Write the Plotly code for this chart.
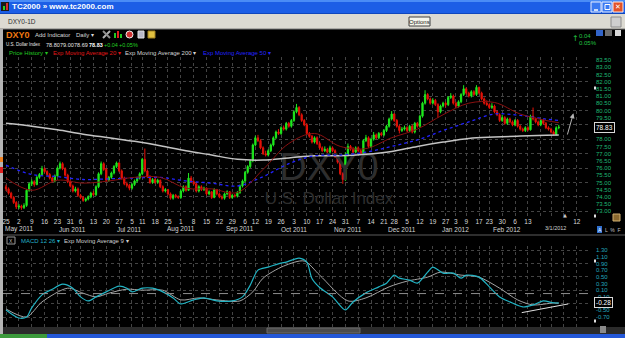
import plotly.graph_objects as go
import pandas as pd

W, H = 625, 338

# ---------------- trading calendar (categories) ----------------
HOLIDAYS = ["2011-05-30", "2011-07-04", "2011-09-05", "2011-11-24",
            "2011-12-26", "2012-01-02", "2012-01-16", "2012-02-20"]
calendar = [d.strftime("%Y-%m-%d") for d in pd.bdate_range("2011-04-25", "2012-03-16")
            if d.strftime("%Y-%m-%d") not in HOLIDAYS]

# ---------------- DXY0 daily OHLC ----------------
opens = [
    74.70, 74.55, 74.25, 73.95, 73.60,  73.30, 73.35, 73.25, 73.40, 74.45,
    74.90, 75.05, 74.85, 75.35, 75.55,  75.95, 75.75, 75.55, 75.30, 75.10,
    75.45, 76.00, 76.30, 75.95, 75.50,  75.05, 74.75, 74.40, 74.55,
    74.10, 73.95, 73.75, 73.85, 74.00,  74.25, 74.15, 74.70, 75.60, 76.30,
    75.90, 75.15, 75.35, 75.65, 76.10,  76.35, 75.80, 75.30, 74.90, 74.80,
    74.60, 74.85, 75.10, 75.30,  75.60, 76.60, 75.80, 75.40, 75.00,
    75.20, 75.00, 75.15, 74.70, 74.40,  74.50, 74.20, 73.90, 74.10, 74.00,
    73.95, 74.40, 74.70, 74.45, 75.30,  75.05, 74.90, 74.40, 74.70, 74.50,
    74.60, 74.20, 74.35, 73.95, 74.50,  74.20, 74.00, 73.90, 74.20, 74.35,
    73.95, 74.10, 74.05, 74.30, 74.75,  75.10, 75.70, 76.10, 76.50,
    77.60, 78.10, 77.90, 77.40, 77.00,  76.90, 77.20, 77.60, 78.10, 78.50,
    78.40, 78.80, 78.70, 79.10, 78.90,  79.30, 79.90, 80.20, 79.70, 79.30,
    79.00, 78.40, 78.20, 77.80, 78.10,  77.70, 77.40, 77.20, 77.30, 77.10,
    77.40, 77.20, 76.80, 76.40, 75.60,  75.20, 76.90, 77.50, 77.30, 77.10,
    77.40, 77.20, 77.00, 77.90, 78.10,  77.50, 78.00, 78.30, 78.10, 78.40,
    78.30, 78.60, 78.90, 79.40,  79.75, 79.30, 78.90, 78.60, 78.70,
    78.80, 78.60, 78.90, 78.50, 79.10,  78.90, 79.60, 80.50, 81.10, 80.80,
    80.50, 80.70, 80.40, 79.90, 80.30,  80.50, 80.40, 80.90, 81.00,
    80.50, 80.30, 80.60, 81.10,  81.50, 81.20, 81.00, 81.30, 81.10,
    81.60, 81.20, 80.80, 80.50,  80.40, 80.20, 80.30, 79.90, 79.70,
    79.30, 79.50, 79.10, 79.40, 79.20,  79.00, 79.30, 78.90, 78.70, 78.60,
    78.80, 78.65, 79.60, 79.40, 79.20,  79.00, 79.30, 79.10, 78.80,
    78.70, 78.50, 78.35, 78.80,
]
highs = [
    74.85, 74.65, 74.35, 74.05, 73.70,  73.50, 73.45, 73.55, 74.55, 75.00,
    75.20, 75.15, 75.45, 75.65, 76.15,  76.05, 75.85, 75.65, 75.40, 75.55,
    76.10, 76.45, 76.40, 76.05, 75.60,  75.15, 74.85, 74.70, 74.65,
    74.20, 74.05, 73.95, 74.10, 74.35,  74.40, 74.80, 75.70, 76.45, 76.40,
    76.00, 75.45, 75.75, 76.20, 76.45,  76.40, 75.90, 75.40, 75.05, 74.90,
    74.95, 75.20, 75.40, 75.70,  76.70, 77.35, 75.90, 75.50, 75.30,
    75.30, 75.25, 75.20, 74.80, 74.60,  74.55, 74.30, 74.20, 74.20, 74.10,
    74.50, 74.80, 74.80, 75.65, 75.45,  75.15, 75.00, 74.80, 74.80, 74.70,
    74.65, 74.45, 74.40, 74.60, 74.55,  74.30, 74.10, 74.30, 74.45, 74.40,
    74.20, 74.20, 74.40, 74.85, 75.20,  75.80, 76.20, 76.60, 77.70,
    78.25, 78.30, 78.00, 77.50, 77.20,  77.30, 77.70, 78.20, 78.60, 78.70,
    78.90, 78.95, 79.20, 79.20, 79.40,  80.00, 80.45, 80.30, 79.80, 79.40,
    79.10, 78.50, 78.30, 78.20, 78.20,  77.80, 77.50, 77.50, 77.40, 77.55,
    77.50, 77.30, 76.90, 76.50, 75.70,  77.10, 77.70, 77.60, 77.45, 77.50,
    77.50, 77.30, 78.00, 78.30, 78.20,  78.10, 78.50, 78.40, 78.50, 78.50,
    78.70, 79.00, 79.50, 79.95,  79.80, 79.40, 79.00, 78.85, 78.95,
    78.90, 79.00, 79.00, 79.20, 79.20,  79.70, 80.60, 81.40, 81.20, 80.90,
    80.85, 80.80, 80.50, 80.40, 80.60,  80.60, 81.00, 81.20, 81.10,
    80.60, 80.70, 81.20, 81.75,  81.60, 81.30, 81.40, 81.40, 81.75,
    81.65, 81.30, 80.90, 80.70,  80.50, 80.50, 80.40, 80.00, 79.80,
    79.70, 79.60, 79.50, 79.50, 79.30,  79.40, 79.40, 79.00, 78.80, 78.90,
    78.90, 79.70, 80.20, 79.50, 79.30,  79.40, 79.40, 79.20, 78.90,
    78.80, 78.60, 78.90, 79.00,
]
lows = [
    74.40, 74.15, 73.85, 73.50, 73.15,  73.15, 73.10, 73.15, 73.30, 74.35,
    74.75, 74.70, 74.80, 75.25, 75.45,  75.65, 75.45, 75.20, 75.00, 75.00,
    75.40, 75.90, 75.85, 75.40, 74.95,  74.65, 74.30, 74.30, 74.00,
    73.85, 73.65, 73.65, 73.75, 73.90,  74.05, 74.05, 74.60, 75.50, 75.80,
    75.05, 75.05, 75.25, 75.55, 76.00,  75.70, 75.20, 74.80, 74.65, 74.45,
    74.50, 74.75, 75.00, 75.20,  75.50, 75.70, 75.30, 74.90, 74.90,
    74.90, 74.90, 74.60, 74.30, 74.30,  74.10, 73.80, 73.80, 73.90, 73.85,
    73.85, 74.30, 74.35, 74.40, 74.95,  74.80, 74.30, 74.30, 74.40, 74.40,
    74.10, 74.10, 73.85, 73.90, 74.10,  73.90, 73.80, 73.80, 74.10, 73.85,
    73.85, 73.95, 73.95, 74.20, 74.65,  75.00, 75.60, 76.00, 76.40,
    77.50, 77.80, 77.30, 76.90, 76.80,  76.80, 77.10, 77.50, 78.00, 78.30,
    78.30, 78.60, 78.60, 78.80, 78.80,  79.20, 79.80, 79.60, 79.20, 78.90,
    78.30, 78.10, 77.70, 77.70, 77.60,  77.30, 77.10, 77.10, 77.00, 77.00,
    77.10, 76.70, 76.30, 75.50, 74.90,  75.10, 76.80, 77.20, 77.00, 77.00,
    77.10, 76.90, 76.90, 77.80, 77.40,  77.40, 77.90, 78.00, 78.00, 78.20,
    78.20, 78.50, 78.80, 79.30,  79.20, 78.80, 78.40, 78.50, 78.60,
    78.50, 78.50, 78.40, 78.40, 78.80,  78.80, 79.50, 80.40, 80.70, 80.40,
    80.40, 80.30, 79.50, 79.80, 80.20,  80.20, 80.30, 80.80, 80.40,
    80.20, 80.20, 80.50, 81.00,  81.10, 80.90, 80.90, 81.00, 81.00,
    81.10, 80.70, 80.40, 80.30,  80.10, 80.10, 79.80, 79.60, 79.20,
    79.20, 79.00, 79.00, 79.10, 78.90,  78.90, 78.80, 78.60, 78.50, 78.50,
    78.55, 78.60, 79.30, 79.10, 78.90,  78.90, 79.00, 78.70, 78.60,
    78.40, 78.25, 78.25, 78.69,
]
closes = [
    74.55, 74.25, 73.95, 73.60, 73.30,  73.35, 73.25, 73.40, 74.45, 74.90,
    75.05, 74.85, 75.35, 75.55, 75.95,  75.75, 75.55, 75.30, 75.10, 75.45,
    76.00, 76.30, 75.95, 75.50, 75.05,  74.75, 74.40, 74.55, 74.10,
    73.95, 73.75, 73.85, 74.00, 74.25,  74.15, 74.70, 75.60, 76.30, 75.90,
    75.15, 75.35, 75.65, 76.10, 76.35,  75.80, 75.30, 74.90, 74.80, 74.60,
    74.85, 75.10, 75.30, 75.60,  76.60, 75.80, 75.40, 75.00, 75.20,
    75.00, 75.15, 74.70, 74.40, 74.50,  74.20, 73.90, 74.10, 74.00, 73.95,
    74.40, 74.70, 74.45, 75.30, 75.05,  74.90, 74.40, 74.70, 74.50, 74.60,
    74.20, 74.35, 73.95, 74.50, 74.20,  74.00, 73.90, 74.20, 74.35, 73.95,
    74.10, 74.05, 74.30, 74.75, 75.10,  75.70, 76.10, 76.50, 77.60,
    78.10, 77.90, 77.40, 77.00, 76.90,  77.20, 77.60, 78.10, 78.50, 78.40,
    78.80, 78.70, 79.10, 78.90, 79.30,  79.90, 80.20, 79.70, 79.30, 79.00,
    78.40, 78.20, 77.80, 78.10, 77.70,  77.40, 77.20, 77.30, 77.10, 77.40,
    77.20, 76.80, 76.40, 75.60, 75.20,  76.90, 77.50, 77.30, 77.10, 77.40,
    77.20, 77.00, 77.90, 78.10, 77.50,  78.00, 78.30, 78.10, 78.40, 78.30,
    78.60, 78.90, 79.40, 79.75,  79.30, 78.90, 78.60, 78.70, 78.80,
    78.60, 78.90, 78.50, 79.10, 78.90,  79.60, 80.50, 81.10, 80.80, 80.50,
    80.70, 80.40, 79.90, 80.30, 80.50,  80.40, 80.90, 81.00, 80.50,
    80.30, 80.60, 81.10, 81.50,  81.20, 81.00, 81.30, 81.10, 81.60,
    81.20, 80.80, 80.50, 80.40,  80.20, 80.30, 79.90, 79.70, 79.30,
    79.50, 79.10, 79.40, 79.20, 79.00,  79.30, 78.90, 78.70, 78.60, 78.80,
    78.65, 79.60, 79.40, 79.20, 79.00,  79.30, 79.10, 78.80, 78.70,
    78.50, 78.35, 78.79, 78.83,
]

# ---------------- moving averages (read at sample bars) ----------------
ma_idx = [0, 10, 20, 30, 40, 50, 60, 70, 80, 90, 100, 110, 120, 130, 140, 150,
          160, 170, 180, 190, 200, 210, 215]
ema20 = [75.30, 74.45, 75.15, 74.95, 75.10, 75.35, 75.35, 74.60, 74.55, 74.30, 75.90,
         77.70, 78.40, 77.50, 77.35, 78.10, 78.70, 79.70, 80.50, 80.55, 79.75, 79.30, 79.15]
ema50 = [76.20, 75.55, 75.40, 75.20, 75.25, 75.30, 75.35, 75.10, 74.95, 74.75, 75.40,
         76.30, 76.85, 76.90, 77.10, 77.50, 77.95, 78.60, 79.20, 79.75, 79.65, 79.40, 79.30]
ema200 = [79.10, 78.90, 78.65, 78.35, 78.10, 77.85, 77.55, 77.20, 76.90, 76.60, 76.55,
          76.70, 76.85, 76.85, 76.95, 77.15, 77.50, 77.80, 78.05, 78.15, 78.22, 78.28, 78.30]

# ---------------- MACD 12 26 and EMA 9 signal (read at sample bars) ----------------
macd_idx = [0, 5, 8, 10, 14, 18, 22, 26, 29, 32, 35, 39, 44, 47, 49, 53, 57, 61, 65, 68,
            73, 77, 82, 88, 92, 95, 98, 102, 107, 109, 114, 117, 119, 122, 127, 132, 135, 140,
            145, 148, 151, 153, 157, 160, 164, 166, 170, 174, 177, 179, 184, 188, 192, 196,
            201, 205, 209, 213, 215]
macd_val = [-0.49, -0.73, -0.70, -0.43, -0.04, 0.13, 0.28, 0.16, -0.10, -0.22, -0.10, 0.05,
            0.22, 0.16, 0.05, 0.16, 0.16, 0.05, -0.13, -0.31, -0.19, -0.13, -0.22, -0.22,
            -0.10, 0.25, 0.70, 0.79, 0.91, 0.94, 1.06, 0.94, 0.45, 0.18, -0.10, -0.49, -0.25,
            0.02, 0.20, 0.31, 0.55, 0.46, 0.40, 0.31, 0.64, 0.79, 0.61, 0.61, 0.46, 0.55, 0.49,
            0.20, -0.10, -0.25, -0.40, -0.34, -0.22, -0.28, -0.28]
sig_idx = [0, 8, 14, 24, 30, 35, 40, 47, 53, 61, 68, 75, 82, 91, 96, 100, 108, 116, 122,
           133, 140, 149, 156, 164, 169, 177, 184, 192, 199, 205, 213, 215]
sig_val = [-0.46, -0.70, -0.25, 0.16, 0.01, -0.10, 0.01, 0.13, 0.10, 0.10, -0.19, -0.13,
           -0.19, -0.22, 0.05, 0.46, 0.82, 0.97, 0.55, -0.22, -0.13, 0.20, 0.37, 0.49, 0.64,
           0.55, 0.49, 0.16, -0.19, -0.34, -0.28, -0.29]

# ---------------- tick labels ----------------
tick_dates = ["2011-04-25", "2011-05-02", "2011-05-09", "2011-05-16", "2011-05-23", "2011-05-31",
              "2011-06-06", "2011-06-13", "2011-06-20", "2011-06-27", "2011-07-05", "2011-07-11",
              "2011-07-18", "2011-07-25", "2011-08-01", "2011-08-08", "2011-08-15", "2011-08-22",
              "2011-08-29", "2011-09-06", "2011-09-12", "2011-09-19", "2011-09-26", "2011-10-03",
              "2011-10-10", "2011-10-17", "2011-10-24", "2011-10-31", "2011-11-07", "2011-11-14",
              "2011-11-21", "2011-11-28", "2011-12-05", "2011-12-12", "2011-12-19", "2011-12-27",
              "2012-01-03", "2012-01-09", "2012-01-17", "2012-01-23", "2012-01-30", "2012-02-06",
              "2012-02-13", "2012-02-21", "2012-02-27", "2012-03-05", "2012-03-12"]
tick_text = ["25", "2", "9", "16", "23", "31", "6", "13", "20", "27", "5", "11", "18", "25",
             "1", "8", "15", "22", "29", "6", "12", "19", "26", "3", "10", "17", "24", "31",
             "7", "14", "21", "28", "5", "12", "19", "27", "3", "9", "17", "23", "30", "6",
             "13", "", "", "", "12"]
month_dates = ["2011-05-02", "2011-06-01", "2011-07-01", "2011-08-01", "2011-09-01",
               "2011-10-03", "2011-11-01", "2011-12-01", "2012-01-03", "2012-02-01"]
month_text = ["May 2011", "Jun 2011", "Jul 2011", "Aug 2011", "Sep 2011", "Oct 2011",
              "Nov 2011", "Dec 2011", "Jan 2012", "Feb 2012"]
price_ticks = [83.5, 83.0, 82.5, 82.0, 81.5, 81.0, 80.5, 80.0, 79.5, 78.0, 77.5, 77.0,
               76.5, 76.0, 75.5, 75.0, 74.5, 74.0, 73.5, 73.0]
macd_ticks = [1.30, 1.10, 0.90, 0.70, 0.50, 0.30, 0.10, -0.10, -0.50, -0.70]
last_price = 78.83
last_macd = -0.28

n = min(len(opens), len(highs), len(lows), len(closes))
bar_x = list(range(n))
tick_pos = [calendar.index(d) for d in tick_dates]
month_pos = [calendar.index(d) for d in month_dates]

# ---------------- pixel helpers ----------------
PX = 2.571          # pixels per bar
X0 = 6.0            # pixel of first bar
XL, XR = 3, 590     # plot area in pixels
x_range = [(XL - X0) / PX, (XR - X0) / PX]
P_TOP, P_BOT = 57, 216
price_range = [83.5 - (P_BOT - 60) / 14.4, 83.5 + (60 - P_TOP) / 14.4]
M_TOP, M_BOT = 246, 327
macd_range = [1.30 - (M_BOT - 250) / 33.5, 1.30 + (250 - M_TOP) / 33.5]

shapes, annotations = [], []


def rect(x0, y0, x1, y1, fill, line=None, lw=1, kind="rect"):
    shapes.append(dict(type=kind, xref="paper", yref="paper", x0=x0 / W, x1=x1 / W,
                       y0=1 - y0 / H, y1=1 - y1 / H, fillcolor=fill,
                       line=dict(color=line if line else fill, width=lw if line else 0)))


def hline(x0, x1, y, color, w=1, dash="solid"):
    shapes.append(dict(type="line", xref="paper", yref="paper", x0=x0 / W, x1=x1 / W,
                       y0=1 - y / H, y1=1 - y / H, line=dict(color=color, width=w, dash=dash)))


def txt(x, y, s, size=6, color="#d8d8d8", anchor="left", bold=False, family="Liberation Sans"):
    annotations.append(dict(x=x / W, y=1 - y / H, xref="paper", yref="paper",
                            text=("<b>%s</b>" % s) if bold else s, showarrow=False,
                            xanchor=anchor, yanchor="middle", borderpad=0,
                            font=dict(size=size, color=color, family=family)))


GREEN, RED = "#1ee81e", "#e41208"
GRID = "#444444"

fig = go.Figure()

# watermark (behind everything)
fig.add_trace(go.Scatter(x=[(329 - X0) / PX], y=[83.5 - (170 - 60) / 14.4], mode="text",
                         text=["DXY0"], textfont=dict(size=38, color="#2e2e2e", family="Liberation Sans"),
                         hoverinfo="skip", showlegend=False, xaxis="x", yaxis="y"))
fig.add_trace(go.Scatter(x=[(329 - X0) / PX], y=[83.5 - (200 - 60) / 14.4], mode="text",
                         text=["U.S. Dollar Index"], textfont=dict(size=17, color="#2e2e2e", family="Liberation Sans"),
                         hoverinfo="skip", showlegend=False, xaxis="x", yaxis="y"))

fig.add_trace(go.Scatter(x=ma_idx, y=ema200, mode="lines", line=dict(color="#c4c4c4", width=1.5, shape="spline"),
                         hoverinfo="skip", showlegend=False, xaxis="x", yaxis="y"))
fig.add_trace(go.Scatter(x=ma_idx, y=ema50, mode="lines",
                         line=dict(color="#2222ff", width=1.3, dash="dot", shape="spline"),
                         hoverinfo="skip", showlegend=False, xaxis="x", yaxis="y"))
fig.add_trace(go.Scatter(x=ma_idx, y=ema20, mode="lines", line=dict(color="#8a1010", width=1, shape="spline"),
                         hoverinfo="skip", showlegend=False, xaxis="x", yaxis="y"))

fig.add_trace(go.Candlestick(
    x=bar_x, open=opens[:n], high=highs[:n], low=lows[:n], close=closes[:n],
    increasing=dict(line=dict(color=GREEN, width=1), fillcolor=GREEN),
    decreasing=dict(line=dict(color=RED, width=1), fillcolor=RED),
    whiskerwidth=0, hoverinfo="skip", showlegend=False, xaxis="x", yaxis="y"))

# dummy traces for label axes
fig.add_trace(go.Scatter(x=[0], y=[80], mode="markers", marker=dict(opacity=0), hoverinfo="skip",
                         showlegend=False, xaxis="x", yaxis="y3"))
fig.add_trace(go.Scatter(x=[0], y=[0], mode="markers", marker=dict(opacity=0), hoverinfo="skip",
                         showlegend=False, xaxis="x2", yaxis="y4"))

# MACD
fig.add_trace(go.Scatter(x=sig_idx, y=sig_val, mode="lines", line=dict(color="#a4a4a4", width=1, shape="spline", smoothing=0.8),
                         hoverinfo="skip", showlegend=False, xaxis="x2", yaxis="y2"))
fig.add_trace(go.Scatter(x=macd_idx, y=macd_val, mode="lines", line=dict(color="#22b4c4", width=1.2, shape="spline", smoothing=0.8),
                         hoverinfo="skip", showlegend=False, xaxis="x2", yaxis="y2"))

# ---------------- window chrome ----------------
rect(0, 0, 625, 14, "#1c5ee6")
rect(0, 0, 625, 2, "#4a8cf6")
rect(0, 13, 625, 14, "#0f46bd")
rect(1, 2, 9, 11, "#1a1a1a")
rect(3, 6, 5, 10, "#2ad02a")
rect(6, 3, 8, 10, "#d83030")
txt(11, 7, "TC2000 » www.tc2000.com", size=8, color="#ffffff", bold=True)
rect(591, 2, 601, 12, "#3a7af2", line="#e8eeff")
rect(602, 2, 612, 12, "#3a7af2", line="#e8eeff")
rect(613, 2, 623, 12, "#e25228", line="#ffe8e0")
hline(594, 598, 10, "#ffffff", 1.5)
rect(605, 4.5, 610, 9.5, "rgba(0,0,0,0)", line="#ffffff")
txt(618, 7, "✕", size=7, color="#ffffff", anchor="center", family="DejaVu Sans")

rect(0, 14, 625, 29, "#dcdad2")
hline(0, 625, 29, "#7a7a7a")
txt(7, 21.5, "DXY0-1D", size=6.5, color="#303030")
rect(409, 17, 430, 26, "#f6f6ec", line="#404040")
txt(419.5, 21.5, "Options", size=6, color="#202020", anchor="center")
rect(611, 17, 621, 27, "#cfcfcf", line="#8c8c8c")

# chart frame extras
rect(0, 29, 3, 334, "#b4b4b4")
rect(0, 157, 3, 162, "#f08020")
rect(0, 167, 3, 173, "#e02020")
rect(596, 30, 603, 36, "#3264c8")
rect(605, 30, 612, 36, "#6e6e6e")
rect(615, 30, 621, 36, "#d8d8d8")

# header line 1
txt(5, 34.5, "DXY0", size=9, color="#f07a10", bold=True)
txt(34, 34.5, "Add Indicator", size=6, color="#d8d8d8")
txt(75, 34.5, "Daily ▾", size=6, color="#d8d8d8")
shapes.append(dict(type="line", xref="paper", yref="paper", x0=103 / W, x1=110 / W, y0=1 - 38 / H, y1=1 - 31 / H,
                   line=dict(color="#b0b0b0", width=2)))
shapes.append(dict(type="line", xref="paper", yref="paper", x0=103 / W, x1=110 / W, y0=1 - 31 / H, y1=1 - 38 / H,
                   line=dict(color="#909090", width=2)))
rect(114, 33, 116, 38, "#22c822")
rect(117, 31, 119, 38, "#e02020")
rect(120, 34, 122, 38, "#22c822")
rect(126, 31, 133, 38, "#d03030", line="#f0f0f0", kind="circle")
rect(138, 31, 144, 38, "#b8b8c8", line="#e0e0e0")
rect(148, 31, 155, 38, "#e0c040", line="#a08020")

# header line 2
txt(5, 44.5, "U.S. Dollar Index", size=4.5, color="#e8e8e8")
txt(45, 44.5, "78.80", size=5.5, color="#e8e8e8")
txt(59, 44.5, "79.00", size=5.5, color="#e8e8e8")
txt(73, 44.5, "78.69", size=5.5, color="#e8e8e8")
txt(87.5, 44.5, "78.83", size=5.5, color="#ffffff", bold=True)
txt(103, 44.5, "+0.04", size=5.5, color="#22d022")
txt(118, 44.5, "+0.05%", size=5.5, color="#22d022")

# header line 3 (legend)
txt(8, 53.5, "Price History ▾", size=6, color="#22c822")
txt(52, 53.5, "Exp Moving Average 20 ▾", size=6, color="#e01818")
txt(124, 53.5, "Exp Moving Average 200 ▾", size=6, color="#d4d4d4")
txt(202, 53.5, "Exp Moving Average 50 ▾", size=6, color="#2424ff")

# top-right change
txt(571, 38.5, "↑", size=8, color="#22c040", family="DejaVu Sans")
txt(578, 35.5, "0.04", size=6, color="#22c040")
txt(578, 42.5, "0.05%", size=6, color="#22c040")

# price-axis extras
annotations.append(dict(x=594 / W, y=last_price, xref="paper", yref="y", text="78.83", showarrow=False,
                        xanchor="left", yanchor="middle", bgcolor="#000000", bordercolor="#d8d8d8",
                        borderwidth=1, borderpad=1, font=dict(size=6.5, color="#ffffff", family="Liberation Sans")))
rect(594, 86.5, 596, 89.5, "#e0e0e0")
rect(594, 214.5, 596, 217.5, "#e0e0e0")
txt(565, 214.5, "▲", size=5, color="#c8c8c8", anchor="center", family="DejaVu Sans")
txt(555, 227.5, "3/1/2012", size=5.5, color="#d0d0d0", anchor="center")
rect(613, 214, 620, 221, "#8a6a30", line="#d0b070")

# month labels
for pos, lab in zip(month_pos, month_text):
    annotations.append(dict(x=pos, y=1 - 229 / H, xref="x", yref="paper", text=lab, showarrow=False,
                            xanchor="center", yanchor="middle",
                            font=dict(size=6.5, color="#d4d4d4", family="Liberation Sans")))

# arrow drawn on price chart
annotations.append(dict(x=220.7, y=79.8, ax=218.2, ay=78.22, xref="x", yref="y", axref="x", ayref="y",
                        text="", showarrow=True, arrowhead=2, arrowsize=1, arrowwidth=1, arrowcolor="#b4b4b4"))

# MACD panel header and separators
hline(3, 625, 235, "#5c5c5c")
rect(597, 226, 602, 233, "#3070d0")
txt(599.5, 229.5, "A", size=5, color="#ffffff", anchor="center")
txt(604, 229.5, "L  %  F", size=5, color="#c0c0c0")
rect(7, 237, 15, 244, "#000000", line="#9a9a9a")
txt(11, 240.5, "X", size=5, color="#bbbbbb", anchor="center")
txt(20, 240.5, "MACD 12 26 ▾", size=6, color="#22b0c8")
txt(63, 240.5, "Exp Moving Average 9 ▾", size=6, color="#d0d0d0")

shapes.append(dict(type="line", xref="paper", yref="y2", x0=XL / W, x1=XR / W, y0=0, y1=0,
                   line=dict(color="#8c8c8c", width=1, dash="dash")))
shapes.append(dict(type="line", xref="x2", yref="y2", x0=200.6, y0=-0.57, x1=218.7, y1=-0.31,
                   line=dict(color="#e0e0e0", width=1)))
annotations.append(dict(x=594 / W, y=last_macd, xref="paper", yref="y2", text="-0.28", showarrow=False,
                        xanchor="left", yanchor="middle", bgcolor="#000000", bordercolor="#d8d8d8",
                        borderwidth=1, borderpad=1, font=dict(size=6.5, color="#ffffff", family="Liberation Sans")))
rect(594, 259.5, 596, 262.5, "#e0e0e0")
rect(594, 319.5, 596, 322.5, "#e0e0e0")

# bottom bars
rect(3, 327, 625, 334, "#2b2b2b")
rect(267, 328, 360, 333, "#4c4c4c", line="#6a6a6a")
rect(600, 326, 606, 333, "#8a8a8a")
rect(0, 334, 625, 338, "#2458d8")
rect(0, 334, 47, 338, "#3c9a3c")

axis_font = dict(size=6.5, color="#d8d8d8", family="Liberation Sans")

fig.update_layout(
    width=W, height=H, margin=dict(l=0, r=0, t=0, b=0),
    paper_bgcolor="#000000", plot_bgcolor="#000000",
    showlegend=False, hovermode=False,
    xaxis=dict(domain=[XL / W, XR / W], range=x_range, anchor="y", tickmode="array",
               tickvals=tick_pos, ticktext=tick_text, showgrid=True, gridcolor=GRID, griddash="dot",
               gridwidth=1, zeroline=False, showline=False, ticks="", tickfont=axis_font,
               rangeslider=dict(visible=False), fixedrange=True),
    yaxis=dict(domain=[1 - P_BOT / H, 1 - P_TOP / H], range=price_range, anchor="x",
               tickmode="array", tickvals=list(range(73, 84)), showticklabels=False,
               showgrid=True, gridcolor=GRID, griddash="dot", zeroline=False, showline=False, ticks=""),
    yaxis3=dict(overlaying="y", side="right", anchor="x", range=price_range, tickmode="array",
                tickvals=price_ticks, ticktext=["%.2f" % v for v in price_ticks],
                showgrid=False, zeroline=False, showline=False, ticks="", ticklabelstandoff=5,
                tickfont=dict(size=6, color="#1fb872", family="Liberation Sans")),
    xaxis2=dict(domain=[XL / W, XR / W], range=x_range, anchor="y2", tickmode="array",
                tickvals=tick_pos, showticklabels=False, showgrid=True, gridcolor=GRID,
                griddash="dot", zeroline=False, showline=False, ticks=""),
    yaxis2=dict(domain=[1 - M_BOT / H, 1 - M_TOP / H], range=macd_range, anchor="x2",
                tickmode="array", tickvals=[-0.7, -0.3, 0.1, 0.5, 0.9, 1.3], showticklabels=False,
                showgrid=True, gridcolor=GRID, griddash="dot", zeroline=False, showline=False, ticks=""),
    yaxis4=dict(overlaying="y2", side="right", anchor="x2", range=macd_range, tickmode="array",
                tickvals=macd_ticks, ticktext=["%.2f" % v for v in macd_ticks],
                showgrid=False, zeroline=False, showline=False, ticks="", ticklabelstandoff=5,
                tickfont=dict(size=6, color="#22a8bc", family="Liberation Sans")),
    shapes=shapes, annotations=annotations,
)

fig.write_html("out.html", config={"displayModeBar": False, "staticPlot": True})
